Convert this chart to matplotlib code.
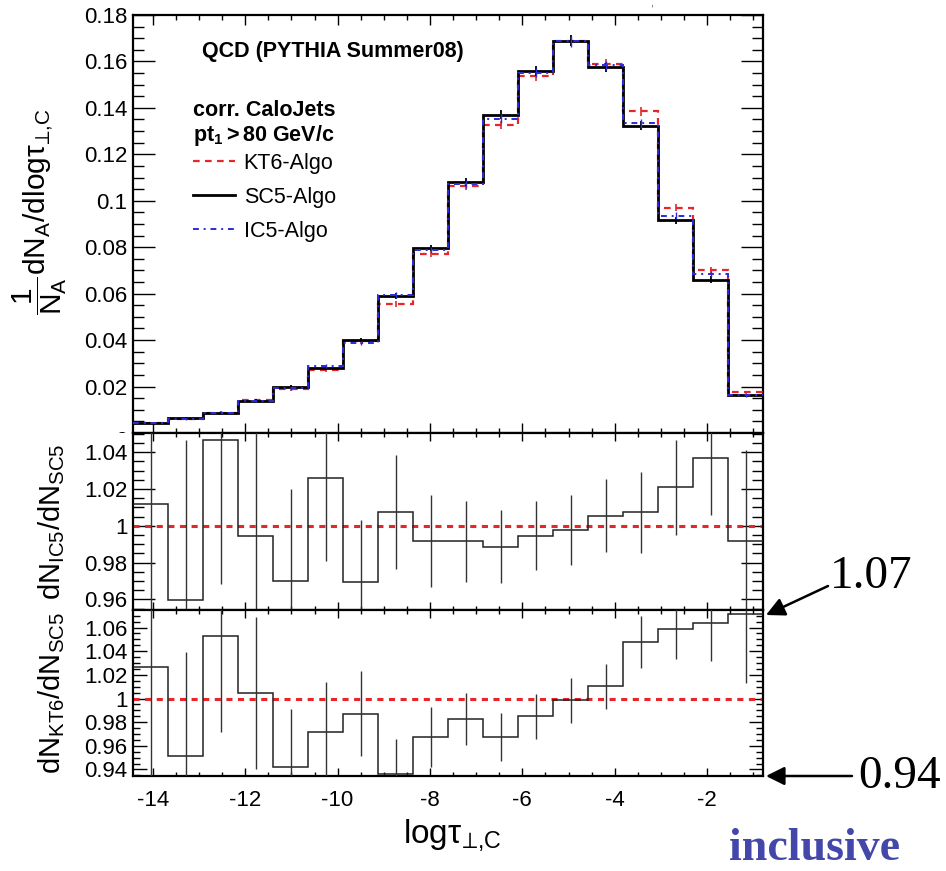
import numpy as np
import matplotlib
matplotlib.use("Agg")
import matplotlib.pyplot as plt
from matplotlib.ticker import MultipleLocator, FuncFormatter
from matplotlib.transforms import Bbox, TransformedBbox, blended_transform_factory
from matplotlib.lines import Line2D
from matplotlib.patches import FancyArrowPatch

plt.rcParams['font.family'] = ['Liberation Sans', 'DejaVu Sans']
plt.rcParams['axes.unicode_minus'] = False
plt.rcParams['mathtext.fontset'] = 'custom'
plt.rcParams['mathtext.rm'] = 'Liberation Sans'
plt.rcParams['mathtext.it'] = 'Liberation Sans:italic'
plt.rcParams['mathtext.bf'] = 'Liberation Sans:bold'
plt.rcParams['mathtext.sf'] = 'Liberation Sans'
plt.rcParams['mathtext.fallback'] = 'stixsans'

# ---------------- data ----------------
x_min, x_max, n_bins = -14.43, -0.79, 18
edges = np.linspace(x_min, x_max, n_bins + 1)
centers = 0.5 * (edges[:-1] + edges[1:])

sc5 = [0.0043, 0.0063, 0.0084, 0.0139, 0.0199, 0.0281, 0.0400, 0.0591, 0.0796,
       0.1080, 0.1370, 0.1560, 0.1690, 0.1574, 0.1323, 0.0917, 0.0660, 0.0163]
kt6 = [0.0044, 0.0060, 0.0088, 0.0140, 0.0188, 0.0273, 0.0395, 0.0554, 0.0770,
       0.1062, 0.1326, 0.1537, 0.1688, 0.1590, 0.1386, 0.0970, 0.0702, 0.0175]
ic5 = [0.0044, 0.0060, 0.0088, 0.0138, 0.0193, 0.0288, 0.0388, 0.0595, 0.0789,
       0.1071, 0.1354, 0.1552, 0.1686, 0.1583, 0.1333, 0.0936, 0.0684, 0.0162]
hist_err = [0.0003, 0.0004, 0.0005, 0.0006, 0.0007, 0.0009, 0.0010, 0.0013, 0.0014,
            0.0017, 0.0019, 0.0021, 0.0022, 0.0021, 0.0019, 0.0015, 0.0014, 0.0007]

ratio_ic5 = [1.0118, 0.9596, 1.0465, 0.9942, 0.9700, 1.0260, 0.9693, 1.0075, 0.9915,
             0.9915, 0.9887, 0.9947, 0.9978, 1.0056, 1.0073, 1.0209, 1.0369, 0.9915]
ratio_ic5_err = [0.080, 0.087, 0.078, 0.090, 0.050, 0.045, 0.034, 0.031, 0.025,
                 0.022, 0.020, 0.019, 0.019, 0.020, 0.022, 0.026, 0.031, 0.050]
ratio_kt6 = [1.0263, 0.9514, 1.0528, 1.0048, 0.9421, 0.9718, 0.9873, 0.9365, 0.9675,
             0.9830, 0.9675, 0.9850, 0.9986, 1.0104, 1.0480, 1.0584, 1.0640, 1.0714]
ratio_kt6_err = [0.100, 0.088, 0.081, 0.064, 0.049, 0.042, 0.036, 0.029, 0.025,
                 0.022, 0.020, 0.019, 0.019, 0.019, 0.022, 0.025, 0.032, 0.058]

x_ticks = [-14, -12, -10, -8, -6, -4, -2]
legend_labels = ['KT6-Algo', 'SC5-Algo', 'IC5-Algo']

RED = '#e8262a'
BLUE = '#2b2be0'

W, H = 946, 871
fig = plt.figure(figsize=(W / 100, H / 100), dpi=100)


def fx(px):
    return px / W


def fy(py):
    return 1 - py / H


L, R = 133, 763
ax1 = fig.add_axes([fx(L), fy(433), fx(R - L), (433 - 15) / H])
ax2 = fig.add_axes([fx(L), fy(610), fx(R - L), (610 - 433) / H])
ax3 = fig.add_axes([fx(L), fy(776), fx(R - L), (776 - 610) / H])

gfmt = FuncFormatter(lambda v, p: ('%g' % round(v, 6)))

for ax, (xmaj, xmin_len), (ymaj, ymin_len) in [
        (ax1, (7.5, 3.8), (16, 8)),
        (ax2, (5.5, 2.8), (16, 8)),
        (ax3, (5.5, 2.8), (10, 5))]:
    ax.set_xlim(x_min, x_max)
    ax.xaxis.set_major_locator(MultipleLocator(2))
    ax.xaxis.set_minor_locator(MultipleLocator(0.5))
    ax.tick_params(which='both', direction='in', top=True, right=True,
                   width=1.0, labelsize=16, colors='black')
    ax.tick_params(axis='x', which='major', length=xmaj, pad=10)
    ax.tick_params(axis='x', which='minor', length=xmin_len)
    ax.tick_params(axis='y', which='major', length=ymaj, pad=4)
    ax.tick_params(axis='y', which='minor', length=ymin_len)
    ax.yaxis.set_major_formatter(gfmt)
    for s in ax.spines.values():
        s.set_linewidth(1.6)
    if ax is not ax3:
        ax.tick_params(axis='x', labelbottom=False)

# ---- top panel ----
ax1.set_ylim(0, 0.18)
ax1.yaxis.set_major_locator(MultipleLocator(0.02))
ax1.yaxis.set_minor_locator(MultipleLocator(0.005))
ax1.yaxis.set_major_formatter(FuncFormatter(lambda v, p: '' if abs(v) < 1e-9 else '%g' % round(v, 6)))

ax1.stairs(kt6, edges, baseline=None, color=RED, lw=1.6, linestyle=(0, (3, 2.4)), zorder=3)
ax1.stairs(sc5, edges, baseline=None, color='black', lw=2.0, zorder=4)
ax1.stairs(ic5, edges, baseline=None, color=BLUE, lw=1.4, linestyle=(0, (3, 2.5, 1, 2.5)), zorder=5)
ax1.vlines(centers, np.array(kt6) - hist_err, np.array(kt6) + hist_err, color=RED, lw=1.2, zorder=3)
ax1.vlines(centers, np.array(sc5) - hist_err, np.array(sc5) + hist_err, color='black', lw=1.3, zorder=4)
ax1.vlines(centers, np.array(ic5) - hist_err, np.array(ic5) + hist_err, color=BLUE, lw=1.0, zorder=5)

# partially hidden "0" label at the bottom of the top panel (covered by the ratio pad)
t0 = ax1.text(-0.0095, -0.0036, '0', transform=blended_transform_factory(ax1.transAxes, ax1.transData),
              ha='right', va='center', fontsize=16)
t0.set_clip_box(TransformedBbox(Bbox([[0, fy(433)], [1, 1]]), fig.transFigure))
t0.set_clip_on(True)

ax1.text(fx(202), fy(52), 'QCD (PYTHIA Summer08)', transform=fig.transFigure,
         fontsize=15.5, fontweight='bold', ha='left', va='center')
ax1.text(fx(193), fy(110), 'corr. CaloJets', transform=fig.transFigure,
         fontsize=15.5, fontweight='bold', ha='left', va='center')
ax1.text(fx(193), fy(135), r'$\mathbf{pt}_{\mathbf{1}}\mathbf{>80\ GeV/c}$', transform=fig.transFigure,
         fontsize=15.5, ha='left', va='center')

handles = [Line2D([], [], color=RED, lw=1.6, linestyle=(0, (3, 2.4))),
           Line2D([], [], color='black', lw=2.0),
           Line2D([], [], color=BLUE, lw=1.4, linestyle=(0, (3, 2.5, 1, 2.5)))]
ax1.legend(handles, legend_labels, loc='upper left',
           bbox_to_anchor=(fx(193), fy(153)), bbox_transform=fig.transFigure,
           frameon=False, fontsize=15.5, handlelength=1.95, handletextpad=0.4,
           labelspacing=0.6, borderpad=0, borderaxespad=0)

# ---- middle panel ----
ax2.set_ylim(0.9542, 1.0505)
ax2.yaxis.set_major_locator(MultipleLocator(0.02))
ax2.yaxis.set_minor_locator(MultipleLocator(0.005))
ax2.axhline(1.0, color=RED, lw=2.2, linestyle=(0, (2, 1.8)), zorder=2)
ax2.stairs(ratio_ic5, edges, baseline=None, color='#222222', lw=1.1, zorder=3)
ax2.vlines(centers, np.array(ratio_ic5) - ratio_ic5_err, np.array(ratio_ic5) + ratio_ic5_err,
           color='#333333', lw=1.0, zorder=3)

# ---- bottom panel ----
ax3.set_ylim(0.9345, 1.0748)
ax3.yaxis.set_major_locator(MultipleLocator(0.02))
ax3.yaxis.set_minor_locator(MultipleLocator(0.005))
ax3.set_xticks(x_ticks)
ax3.axhline(1.0, color=RED, lw=2.2, linestyle=(0, (2, 1.8)), zorder=2)
ax3.stairs(ratio_kt6, edges, baseline=None, color='#222222', lw=1.1, zorder=3)
ax3.vlines(centers, np.array(ratio_kt6) - ratio_kt6_err, np.array(ratio_kt6) + ratio_kt6_err,
           color='#333333', lw=1.0, zorder=3)

# ---- axis titles ----
fig.text(fx(40), fy(212), r'$\dfrac{1}{\mathrm{N_{A}}}\mathrm{dN_{A}/dlog\tau}_{\text{⊥,C}}$',
         rotation=90, ha='center', va='center', fontsize=21.5)
fig.text(fx(52), fy(522), r'$\mathrm{dN_{IC5}/dN_{SC5}}$',
         rotation=90, ha='center', va='center', fontsize=21)
fig.text(fx(52), fy(693), r'$\mathrm{dN_{KT6}/dN_{SC5}}$',
         rotation=90, ha='center', va='center', fontsize=21)
fig.text(fx(452), fy(835), r'$\mathrm{log\tau}_{\text{⊥,C}}$',
         ha='center', va='center', fontsize=24)

# ---- annotations ----
fig.text(fx(652), fy(4), ',', ha='center', va='center', fontsize=8, color='#555555')
fig.text(fx(912), fy(577), '1.07', family='Liberation Serif', fontsize=34,
         ha='right', va='center')
fig.text(fx(941), fy(777), '0.94', family='Liberation Serif', fontsize=34,
         ha='right', va='center')
fig.text(fx(900), fy(849), 'inclusive', family='Liberation Serif', fontsize=33,
         fontweight='bold', color='#4347a9', ha='right', va='center')
arrow = dict(arrowstyle='-|>', mutation_scale=28, lw=1.8, color='black', shrinkA=0, shrinkB=0)
fig.add_artist(FancyArrowPatch((fx(828), fy(586)), (fx(766), fy(615)),
                               transform=fig.transFigure, **arrow))
fig.add_artist(FancyArrowPatch((fx(852), fy(776)), (fx(766), fy(776)),
                               transform=fig.transFigure, **arrow))

fig.savefig('out.png', dpi=100)
